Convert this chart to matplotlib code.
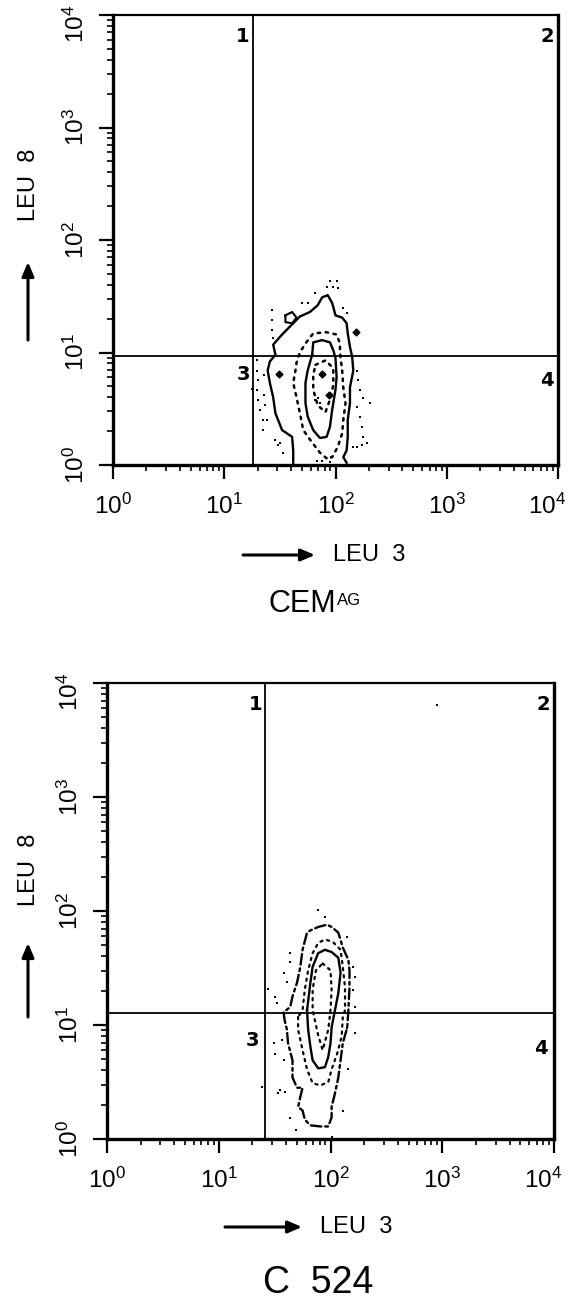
import numpy as np
import matplotlib
matplotlib.use("Agg")
import matplotlib.pyplot as plt
from matplotlib.patches import FancyArrowPatch
from matplotlib.ticker import LogLocator, NullFormatter
from matplotlib.transforms import ScaledTranslation

plt.rcParams['font.family'] = ['Liberation Sans', 'DejaVu Sans']
plt.rcParams['mathtext.fontset'] = 'custom'
plt.rcParams['mathtext.rm'] = 'Liberation Sans'
plt.rcParams['mathtext.it'] = 'Liberation Sans'

W, H = 573, 1301

# contour outlines, in decades (log10 of LEU 3 / LEU 8 intensity)
# --- panel 1: CEM AG ---
cem_outer_lx = [1.62, 1.62, 1.61, 1.52, 1.46, 1.44, 1.41, 1.39, 1.41, 1.46, 1.44, 1.52, 1.56, 1.68, 1.77,
                1.84, 1.88, 1.93, 1.97, 2.00, 2.06, 2.10, 2.11, 2.13, 2.15, 2.16, 2.13, 2.13, 2.11, 2.11,
                2.10, 2.07, 2.10]
cem_outer_ly = [0.02, 0.13, 0.25, 0.31, 0.46, 0.60, 0.73, 0.84, 0.92, 0.98, 1.07, 1.16, 1.20, 1.32, 1.36,
                1.42, 1.49, 1.51, 1.44, 1.33, 1.31, 1.26, 1.17, 1.05, 0.96, 0.84, 0.69, 0.55, 0.40, 0.25,
                0.13, 0.07, 0.02]
cem_mid_lx = [1.92, 1.86, 1.79, 1.71, 1.68, 1.65, 1.62, 1.64, 1.65, 1.68, 1.73, 1.80, 1.92, 2.01, 2.04,
              2.04, 2.06, 2.07, 2.09, 2.07, 2.06, 2.02, 1.97, 1.92]
cem_mid_ly = [0.06, 0.11, 0.20, 0.31, 0.46, 0.60, 0.73, 0.84, 0.91, 1.00, 1.08, 1.17, 1.18, 1.16, 1.08,
              1.00, 0.84, 0.69, 0.55, 0.40, 0.28, 0.16, 0.07, 0.06]
cem_inner_lx = [1.79, 1.80, 1.88, 1.95, 1.98, 2.00, 2.01, 2.00, 1.97, 1.95, 1.92, 1.86, 1.80, 1.75, 1.73,
                1.73, 1.75, 1.79]
cem_inner_ly = [0.98, 1.09, 1.11, 1.09, 1.02, 0.95, 0.78, 0.67, 0.49, 0.34, 0.25, 0.24, 0.31, 0.43, 0.55,
                0.73, 0.84, 0.98]
cem_core_lx = [1.82, 1.91, 1.98, 1.98, 1.95, 1.91, 1.84, 1.80, 1.80, 1.82]
cem_core_ly = [0.89, 0.93, 0.86, 0.71, 0.58, 0.47, 0.53, 0.67, 0.80, 0.89]
cem_loop_lx = [1.55, 1.61, 1.65, 1.61, 1.55, 1.55]
cem_loop_ly = [1.33, 1.36, 1.31, 1.26, 1.27, 1.33]
cem_peak_lx = [1.49, 1.88, 1.94, 2.18]
cem_peak_ly = [0.81, 0.81, 0.62, 1.18]
cem_dots_lx = [1.29, 1.29, 1.30, 1.29, 1.30, 1.32, 1.35, 1.35, 1.36, 1.36, 1.37, 1.38, 1.46, 1.50, 1.53,
               1.48, 1.25, 2.19, 2.20, 2.22, 2.25, 2.19, 2.22, 2.24, 2.25, 2.19, 2.28, 2.31, 2.16, 2.24,
               1.95, 2.01, 1.92, 1.98, 1.70, 1.75, 1.82, 1.43, 1.43, 1.43, 1.44, 2.07, 2.10, 2.02,
               1.82, 1.86, 1.84, 1.88, 1.95, 1.83]
cem_dots_ly = [0.93, 0.84, 0.76, 0.67, 0.58, 0.49, 0.40, 0.31, 0.80, 0.62, 0.53, 0.40, 0.22, 0.20, 0.11,
               0.18, 0.68, 0.84, 0.76, 0.67, 0.60, 0.52, 0.43, 0.34, 0.25, 0.16, 0.20, 0.55, 0.16, 0.18,
               1.64, 1.64, 1.58, 1.58, 1.44, 1.44, 1.53, 1.38, 1.29, 1.20, 1.13, 1.40, 1.35, 1.57,
               0.58, 0.55, 0.60, 0.04, 0.03, 0.04]

# --- panel 2: C 524 ---
c524_outer_lx = [1.58, 1.59, 1.61, 1.62, 1.66, 1.66, 1.70, 1.75, 1.73, 1.71, 1.75, 1.77, 1.82, 1.91, 1.98,
                 2.01, 2.01, 2.04, 2.07, 2.09, 2.11, 2.15, 2.16, 2.17, 2.17, 2.16, 2.11, 2.07, 2.01, 1.97,
                 1.89, 1.82, 1.79, 1.75, 1.73, 1.70, 1.66, 1.64, 1.58]
c524_outer_ly = [1.11, 1.04, 0.96, 0.84, 0.69, 0.54, 0.45, 0.45, 0.37, 0.28, 0.25, 0.17, 0.12, 0.11, 0.11,
                 0.19, 0.28, 0.40, 0.54, 0.69, 0.84, 0.98, 1.13, 1.33, 1.48, 1.57, 1.68, 1.81, 1.86, 1.88,
                 1.86, 1.83, 1.81, 1.66, 1.51, 1.37, 1.25, 1.16, 1.11]
c524_mid_lx = [1.71, 1.71, 1.75, 1.79, 1.84, 1.91, 1.98, 2.01, 2.06, 2.10, 2.11, 2.13, 2.13, 2.11, 2.09,
               2.02, 1.95, 1.89, 1.84, 1.80, 1.77, 1.75, 1.71]
c524_mid_ly = [1.07, 0.96, 0.78, 0.61, 0.49, 0.47, 0.50, 0.61, 0.75, 0.90, 1.07, 1.13, 1.33, 1.51, 1.66,
               1.73, 1.75, 1.72, 1.63, 1.48, 1.31, 1.13, 1.07]
c524_inner_lx = [1.79, 1.82, 1.84, 1.89, 1.95, 2.01, 2.07, 2.09, 2.07, 2.04, 2.01, 2.00, 1.98, 1.95, 1.89,
                 1.84, 1.82, 1.80, 1.79]
c524_inner_ly = [1.13, 1.37, 1.51, 1.63, 1.66, 1.64, 1.59, 1.46, 1.28, 1.13, 0.98, 0.84, 0.72, 0.63, 0.62,
                 0.69, 0.81, 0.96, 1.13]
c524_core_lx = [1.93, 2.00, 2.01, 2.00, 1.98, 1.93, 1.89, 1.84, 1.84, 1.87, 1.93]
c524_core_ly = [1.54, 1.48, 1.31, 1.13, 0.96, 0.78, 0.91, 1.13, 1.31, 1.48, 1.54]
c524_dots_lx = [1.89, 1.95, 1.64, 1.64, 1.58, 1.44, 1.50, 1.52, 2.15, 2.20, 2.22, 2.20, 2.22, 1.49, 1.50,
                1.58, 1.55, 1.59, 1.53, 2.15, 2.22, 2.16, 2.11, 2.01, 1.39, 2.95, 1.57, 1.64, 1.69, 1.61]
c524_dots_ly = [2.01, 1.95, 1.63, 1.55, 1.46, 1.32, 1.25, 1.19, 1.77, 1.51, 1.42, 1.31, 1.16, 0.84, 0.75,
                0.69, 0.43, 0.41, 0.40, 0.97, 0.93, 0.61, 0.25, 0.02, 0.46, 3.81, 0.87, 0.18, 0.08, 1.38]

# quadrant gates (LEU 3, LEU 8)
cem_gate = (18.1, 9.3)
c524_gate = (25.9, 12.7)

decade_labels = [r'$\mathdefault{10^{%d}}$' % k for k in range(5)]

dotted = (0, (1.0, 2.2))
dashdot = (0, (4.5, 1.6, 1.2, 1.6))


def draw_contour(ax, lx, ly, style, lw=1.5):
	ax.plot(10 ** np.array(lx), 10 ** np.array(ly), color='black', linestyle=style,
			linewidth=lw, solid_joinstyle='round', dash_capstyle='round', zorder=3)


def setup_panel(ax, gate):
	ax.set_xscale('log')
	ax.set_yscale('log')
	ax.set_xlim(1, 1e4)
	ax.set_ylim(1, 1e4)
	for s in ax.spines.values():
		s.set_linewidth(2.4)
	ax.spines['top'].set_linewidth(1.6)
	ax.xaxis.set_minor_locator(LogLocator(base=10, subs=np.arange(2, 10), numticks=10))
	ax.yaxis.set_minor_locator(LogLocator(base=10, subs=np.arange(2, 10), numticks=10))
	ax.xaxis.set_minor_formatter(NullFormatter())
	ax.yaxis.set_minor_formatter(NullFormatter())
	ax.set_xticks([10 ** k for k in range(5)], decade_labels)
	ax.set_yticks([10 ** k for k in range(5)], decade_labels)
	ax.tick_params(which='major', direction='out', length=10, width=1.6, labelsize=17.5, pad=11)
	ax.tick_params(which='minor', direction='out', length=4.5, width=1.2)
	ax.tick_params(axis='y', labelrotation=90, pad=7)
	for lab in ax.get_yticklabels():
		lab.set_va('center')
	# the end labels sit a little inside, as in the print
	xlast = ax.xaxis.get_major_ticks()[-1].label1
	xlast.set_transform(xlast.get_transform() + ScaledTranslation(-11 / 100, 0, fig.dpi_scale_trans))
	ylast = ax.yaxis.get_major_ticks()[-1].label1
	ylast.set_transform(ylast.get_transform() + ScaledTranslation(0, -9 / 100, fig.dpi_scale_trans))
	ax.axvline(gate[0], color='black', linewidth=1.3, zorder=2)
	ax.axhline(gate[1], color='black', linewidth=1.3, zorder=2)


def px(x, y):
	return x / W, 1 - y / H


fig = plt.figure(figsize=(W / 100, H / 100), dpi=100)
ax1 = fig.add_axes([113 / W, 1 - 465 / H, 445 / W, 450 / H])
ax2 = fig.add_axes([107 / W, 1 - 1139 / H, 447 / W, 456 / H])

setup_panel(ax1, cem_gate)
setup_panel(ax2, c524_gate)

# panel 1 contours
draw_contour(ax1, cem_outer_lx, cem_outer_ly, '-', 1.7)
draw_contour(ax1, cem_mid_lx, cem_mid_ly, dotted, 1.8)
draw_contour(ax1, cem_inner_lx, cem_inner_ly, '-', 1.7)
draw_contour(ax1, cem_core_lx, cem_core_ly, dotted, 1.8)
draw_contour(ax1, cem_loop_lx, cem_loop_ly, '-', 1.5)
ax1.plot(10 ** np.array(cem_peak_lx), 10 ** np.array(cem_peak_ly), 'D', color='black', markersize=3.5, zorder=4)
ax1.plot(10 ** np.array(cem_dots_lx), 10 ** np.array(cem_dots_ly), 's', color='black', markersize=2.0,
		 markeredgewidth=0, zorder=3)

# panel 2 contours
draw_contour(ax2, c524_outer_lx, c524_outer_ly, dashdot, 1.7)
draw_contour(ax2, c524_mid_lx, c524_mid_ly, dotted, 1.6)
draw_contour(ax2, c524_inner_lx, c524_inner_ly, '-', 1.7)
draw_contour(ax2, c524_core_lx, c524_core_ly, dotted, 1.6)
ax2.plot(10 ** np.array(c524_dots_lx), 10 ** np.array(c524_dots_ly), 's', color='black', markersize=2.0,
		 markeredgewidth=0, zorder=3)

# quadrant numbers
quad_font = dict(family=['Liberation Sans Narrow', 'DejaVu Sans'], fontsize=14, fontweight='bold',
				 ha='center', va='center')
for (x, y, t) in [(243, 37, '1'), (547, 37, '2'), (243, 374, '3'), (547, 380, '4'),
				  (256, 705, '1'), (543, 705, '2'), (252, 1040, '3'), (541, 1048, '4')]:
	fig.text(*px(x, y), t, **quad_font)

# axis labels with arrows
arrow = dict(arrowstyle='-|>,head_length=0.7,head_width=0.3', color='black', linewidth=2.2,
			 shrinkA=0, shrinkB=0, mutation_scale=12, transform=fig.transFigure)
for (x0, y0, x1, y1) in [(28, 340, 28, 262), (28, 1017, 28, 943),
						 (243, 555, 315, 555), (225, 1227, 302, 1227)]:
	fig.add_artist(FancyArrowPatch(px(x0, y0), px(x1, y1), **arrow))

fig.text(*px(29, 185), 'LEU  8', rotation=90, fontsize=17, ha='center', va='center')
fig.text(*px(29, 870), 'LEU  8', rotation=90, fontsize=17, ha='center', va='center')
fig.text(*px(333, 555), 'LEU  3', fontsize=17, ha='left', va='center')
fig.text(*px(320, 1227), 'LEU  3', fontsize=17, ha='left', va='center')

# sample names
cem = fig.text(*px(268, 604), 'CEM', fontsize=22, ha='left', va='center')
fig.canvas.draw()
bb = cem.get_window_extent().transformed(fig.transFigure.inverted())
fig.text(bb.x1 + 1 / W, bb.y1 - 4 / H, 'AG', fontsize=12, ha='left', va='top')
fig.text(*px(318, 1283), 'C  524', fontsize=27, ha='center', va='center')

fig.savefig('out.png', dpi=100)
